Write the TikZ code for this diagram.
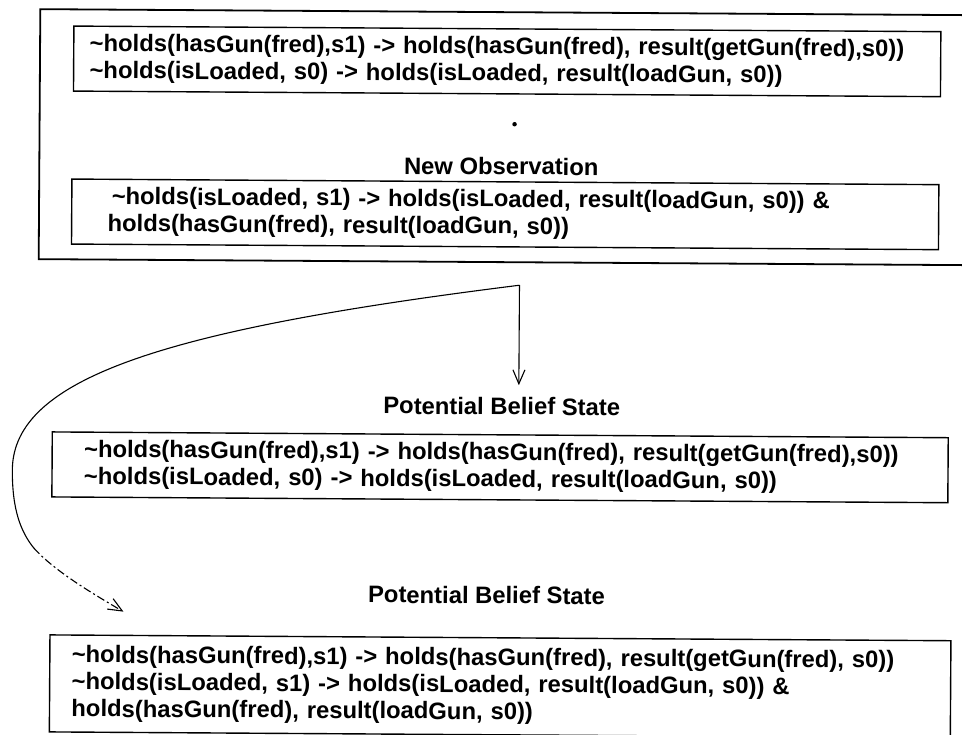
\documentclass[tikz,border=0pt]{standalone}
\usepackage{fontspec}
\setmainfont{Liberation Sans}
\usetikzlibrary{arrows.meta}
\newcommand\nt{\textasciitilde}
\begin{document}
\begin{tikzpicture}[x=1pt,y=-1pt,
  every node/.style={font=\fontsize{23.8}{27}\selectfont\bfseries},
  clause/.style={draw, line width=1.4pt, anchor=north west, align=left, inner ysep=0pt},
  caption/.style={inner sep=0pt},
  flow/.style={line width=1.1pt},
  tip/.style={-{Straight Barb[length=14pt,width=12pt,line width=1.1pt]}}
]
\useasboundingbox (0,0) rectangle (962,735);
\clip (0,0) rectangle (962,735);
\begin{scope}[rotate around={-0.37:(481,367)}, transform shape]
  % current belief state with the new observation
  \draw[line width=1.8pt] (1000,12) -- (38,12) -- (38,262) -- (1000,262);
  \node[clause, text width=835pt, inner xsep=16pt, minimum height=65pt] (known) at (71,28)
    {\nt holds(hasGun(fred),s1) -> holds(hasGun(fred), result(getGun(fred),s0))\\
     \nt holds(isLoaded, s0) -> holds(isLoaded, result(loadGun, s0))};
  \node[circle, fill, inner sep=0pt, minimum size=4.5pt] (gap) at (513,124) {};
  \node[caption] (obs) at (500,166) {New Observation};
  \node[clause, text width=795pt, inner xsep=36pt, minimum height=65pt] (observed) at (70,181)
    {\hspace*{4pt}\nt holds(isLoaded, s1) -> holds(isLoaded, result(loadGun, s0)) \&\\
     holds(hasGun(fred), result(loadGun, s0))};

  % revision step and its two candidates
  \coordinate (split) at (519,285);
  \coordinate (drop) at (519,385);
  \coordinate (bend) at (13,473);
  \coordinate (fade) at (35,551);
  \coordinate (land) at (125,614);
  \draw[flow, tip] (split) -- (drop);
  \draw[flow] (split) .. controls (169,331) and (13,380) .. (bend)
    .. controls (13,513) and (22,535) .. (fade);
  \draw[flow, tip, dash pattern=on 8pt off 3pt on 2pt off 3pt] (fade) .. controls (55,573) and (92,595) .. (land);

  \node[caption] (pbs1) at (502,406) {Potential Belief State};
  \node[clause, text width=832pt, inner xsep=32pt, minimum height=65pt] (first) at (52,434)
    {\nt holds(hasGun(fred),s1) -> holds(hasGun(fred), result(getGun(fred),s0))\\
     \nt holds(isLoaded, s0) -> holds(isLoaded, result(loadGun, s0))};

  \node[caption] (pbs2) at (488,595) {Potential Belief State};
  \node[clause, text width=857pt, inner xsep=22pt, minimum height=97pt] (second) at (51,637)
    {\nt holds(hasGun(fred),s1) -> holds(hasGun(fred), result(getGun(fred), s0))\\
     \nt holds(isLoaded, s1) -> holds(isLoaded, result(loadGun, s0)) \&\\
     holds(hasGun(fred), result(loadGun, s0))};
\end{scope}
\end{tikzpicture}
\end{document}
